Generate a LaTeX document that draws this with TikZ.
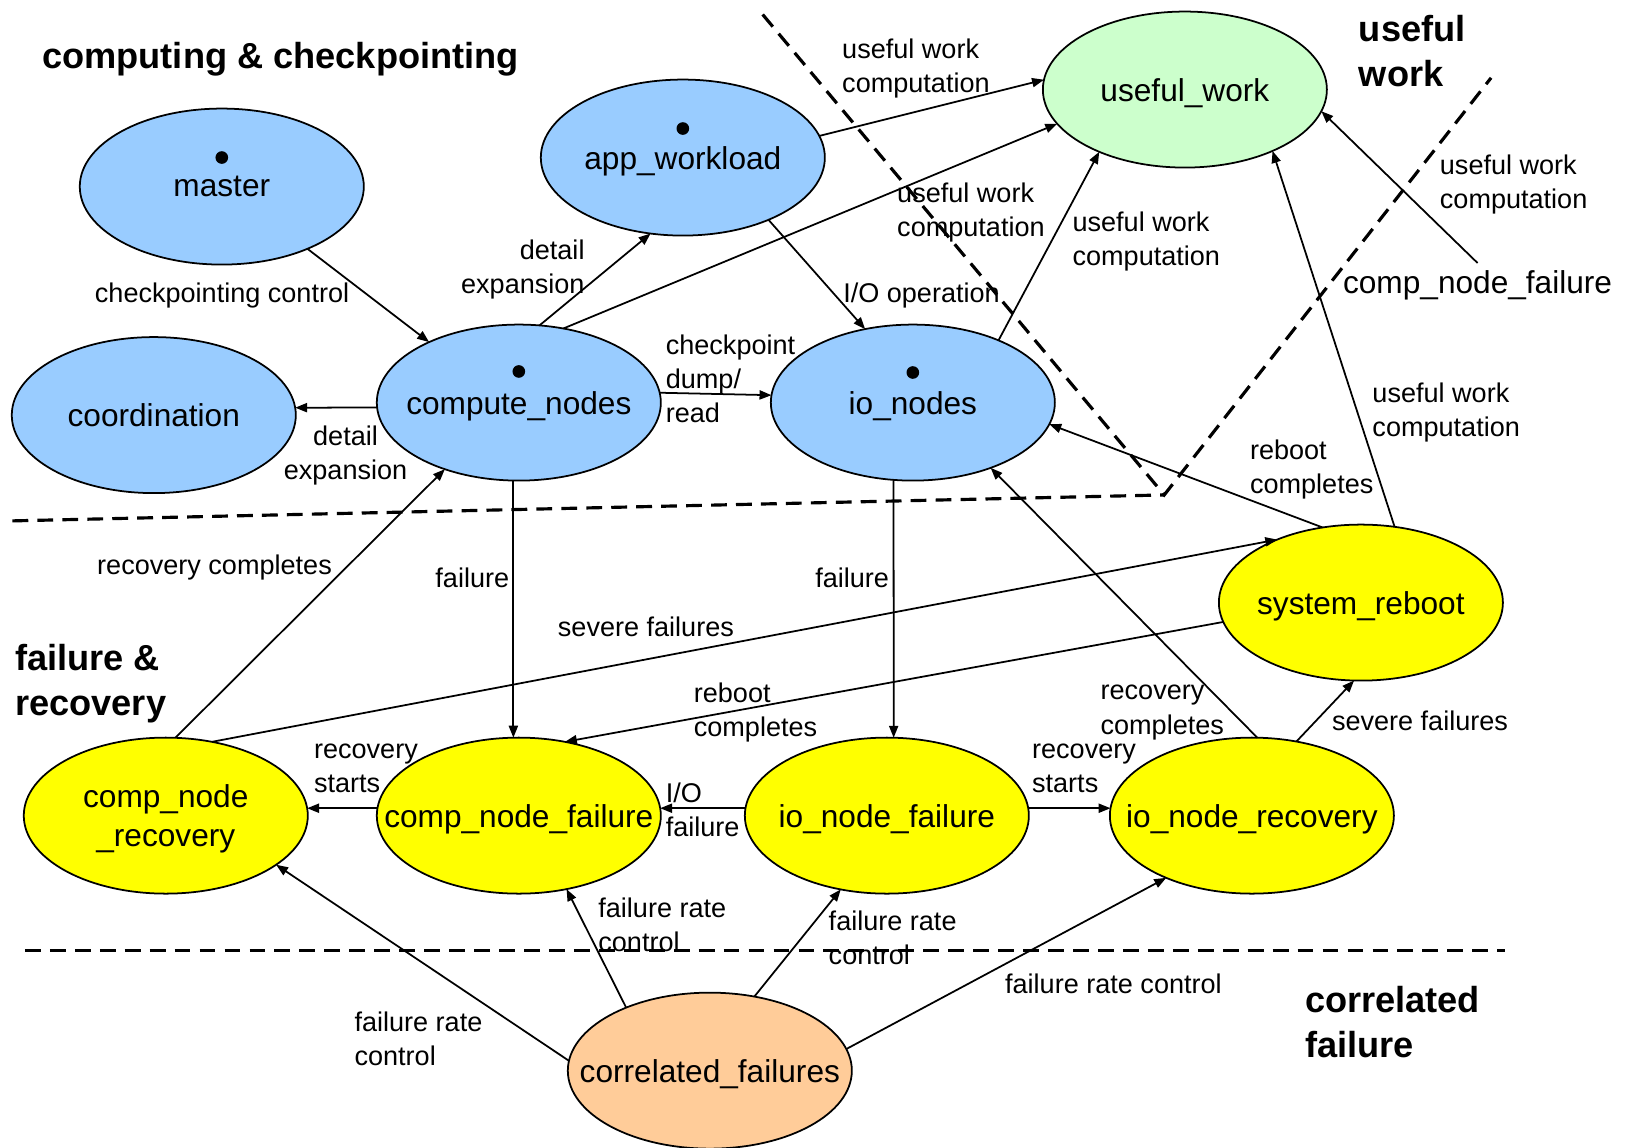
\documentclass[tikz,border=0pt]{standalone}
\usepackage{fontspec}
\setmainfont{Liberation Sans}
\usetikzlibrary{shapes.geometric,arrows.meta,positioning}

\definecolor{nodeblue}{HTML}{99CCFF}
\definecolor{workgreen}{HTML}{CCFFCC}
\definecolor{failyellow}{HTML}{FFFF00}
\definecolor{corrorange}{HTML}{FFCC99}

\tikzset{
  state/.style={ellipse, draw, line width=0.5pt, minimum width=2.84cm, minimum height=1.56cm,
    inner xsep=-0.4cm, inner ysep=0pt, outer sep=0pt, align=center, text depth=0pt,
    font=\fontsize{9}{11.2}\selectfont},
  flow/.style={-{Triangle[length=3.4pt,width=2.6pt]}, line width=0.5pt},
  lbl/.style={inner sep=0pt, align=left, anchor=west, text depth=0pt, font=\fontsize{7.7}{9.7}\selectfont},
  zonetitle/.style={inner sep=0pt, align=left, anchor=west, text depth=0pt, font=\fontsize{10.3}{12.7}\selectfont\bfseries},
  zone/.style={line width=0.9pt, dash pattern=on 4.5pt off 2.6pt},
}

\begin{document}
\begin{tikzpicture}[x=0.010376cm, y=-0.010376cm, on grid]
  \useasboundingbox (0,0) rectangle (1568,1106);

  % Define states
  \node[state, fill=nodeblue] (compute_nodes) at (500,388) {compute\_nodes};
  \node[state, fill=nodeblue, right = 3.94cm of compute_nodes] (io_nodes) {io\_nodes};
  \node[state, fill=nodeblue, below left = 0.125cm and 3.65cm of compute_nodes] (coordination) {coordination};
  \node[state, fill=nodeblue, above left = 2.16cm and 2.97cm of compute_nodes] (master) {master};
  \node[state, fill=nodeblue, above right = 2.45cm and 1.64cm of compute_nodes] (app_workload) {app\_workload};
  \node[state, fill=workgreen, above right = 3.13cm and 2.72cm of io_nodes] (useful_work) {useful\_work};
  \node[state, fill=failyellow, below right = 2.0cm and 4.48cm of io_nodes] (system_reboot) {system\_reboot};
  \node[state, fill=failyellow, below = 4.13cm of compute_nodes] (comp_node_failure) {comp\_node\_failure};
  \node[state, fill=failyellow, left = 3.53cm of comp_node_failure] (comp_node_recovery) {comp\_node\\\_recovery};
  \node[state, fill=failyellow, right = 3.68cm of comp_node_failure] (io_node_failure) {io\_node\_failure};
  \node[state, fill=failyellow, right = 3.65cm of io_node_failure] (io_node_recovery) {io\_node\_recovery};
  \node[state, fill=corrorange, below right = 2.55cm and 1.91cm of comp_node_failure] (correlated_failures) {correlated\_failures};
  \node[inner sep=2pt, text depth=0pt, font=\fontsize{9}{11.2}\selectfont] (failure_ref) at (1424,272) {comp\_node\_failure};

  % Dots on the top-level states
  \fill (master.center) ++(0,-28) circle[radius=1.8pt];
  \fill (app_workload.center) ++(0,-28) circle[radius=1.8pt];
  \fill (compute_nodes.center) ++(0,-30) circle[radius=1.8pt];
  \fill (io_nodes.center) ++(0,-29) circle[radius=1.8pt];

  % Zone titles
  \node[zonetitle] (title_cc) at (40,53) {computing \& checkpointing};
  \node[zonetitle] (title_uw) at (1309,49) {useful\\work};
  \node[zonetitle] (title_fr) at (14,655) {failure \&\\recovery};
  \node[zonetitle] (title_cf) at (1257,985) {correlated\\failure};

  % Zone borders
  \coordinate (zone_corner) at (1122,477);
  \draw[zone] (735,14) -- (zone_corner) -- (1437,75);
  \draw[zone] (12,502) -- (zone_corner);
  \draw[zone] (24,916) -- (1450,916);

  % Draw edges
  \draw[flow] (master.-36) -- (compute_nodes.146);
  \draw[flow] (compute_nodes.182) -- (coordination.3);
  \draw[flow] (compute_nodes.75) -- (app_workload.-113);
  \draw[flow] (compute_nodes.59) -- (useful_work.195);
  \draw[flow] (app_workload.9) -- (useful_work.176);
  \draw[flow] (app_workload.-36) -- (io_nodes.123);
  \draw[flow] (compute_nodes.4) -- (io_nodes.177);
  \draw[flow] (io_nodes.36) -- (useful_work.-144);
  \draw[flow] (failure_ref.north) -- (useful_work.-9);
  \draw[flow] (system_reboot.66) -- (useful_work.-35);
  \draw[flow] (system_reboot.117) -- (io_nodes.-9);
  \draw[flow] (compute_nodes.266) -- (comp_node_failure.94);
  \draw[flow] (io_nodes.256) -- (io_node_failure.85);
  \draw[flow] (comp_node_recovery.58) -- (system_reboot.143);
  \draw[flow] (system_reboot.188) -- (comp_node_failure.58);
  \draw[flow] (comp_node_recovery.83) -- (compute_nodes.-138);
  \draw[flow] (io_node_recovery.86) -- (io_nodes.-40);
  \draw[flow] (comp_node_failure.177) -- (comp_node_recovery.3);
  \draw[flow] (io_node_failure.177) -- (comp_node_failure.3);
  \draw[flow] (io_node_failure.3) -- (io_node_recovery.177);
  \draw[flow] (io_node_recovery.59) -- (system_reboot.-95);
  \draw[flow] (correlated_failures.176) -- (comp_node_recovery.-24);
  \draw[flow] (correlated_failures.143) -- (comp_node_failure.-57);
  \draw[flow] (correlated_failures.59) -- (io_node_failure.-122);
  \draw[flow] (correlated_failures.9) -- (io_node_recovery.-144);

  % Edge labels
  \node[lbl, anchor=center] (lbl_ckpt) at (214,282) {checkpointing control};
  \node[lbl, anchor=center, align=center] (lbl_coord) at (333,436) {detail\\expansion};
  \node[lbl, anchor=east, align=right] (lbl_app) at (564,257) {detail\\expansion};
  \node[lbl] (lbl_cn_uw) at (864,202) {useful work\\computation};
  \node[lbl] (lbl_app_uw) at (811,63) {useful work\\computation};
  \node[lbl] (lbl_io_op) at (812,282) {I/O operation};
  \node[lbl] (lbl_dump) at (641,365) {checkpoint\\dump/\\read};
  \node[lbl] (lbl_io_uw) at (1033,230) {useful work\\computation};
  \node[lbl] (lbl_ref_uw) at (1387,175) {useful work\\computation};
  \node[lbl] (lbl_sr_uw) at (1322,395) {useful work\\computation};
  \node[lbl] (lbl_sr_io) at (1204,450) {reboot\\completes};
  \node[lbl] (lbl_cn_fail) at (419,557) {failure};
  \node[lbl] (lbl_io_fail) at (785,557) {failure};
  \node[lbl] (lbl_severe) at (537,604) {severe failures};
  \node[lbl] (lbl_sr_cnf) at (668,684) {reboot\\completes};
  \node[lbl] (lbl_cnr_done) at (93,544) {recovery completes};
  \node[lbl] (lbl_inr_done) at (1060,684) {recovery\\completes};
  \node[lbl] (lbl_cn_start) at (302,740) {recovery\\starts};
  \node[lbl] (lbl_io_to_cn) at (641,780) {I/O\\failure};
  \node[lbl] (lbl_io_start) at (994,740) {recovery\\starts};
  \node[lbl] (lbl_inr_severe) at (1283,695) {severe failures};
  \node[lbl] (lbl_rate_cnr) at (341,1001) {failure rate\\control};
  \node[lbl] (lbl_rate_cnf) at (576,891) {failure rate\\control};
  \node[lbl] (lbl_rate_inf) at (798,904) {failure rate\\control};
  \node[lbl] (lbl_rate_inr) at (968,948) {failure rate control};
\end{tikzpicture}
\end{document}
